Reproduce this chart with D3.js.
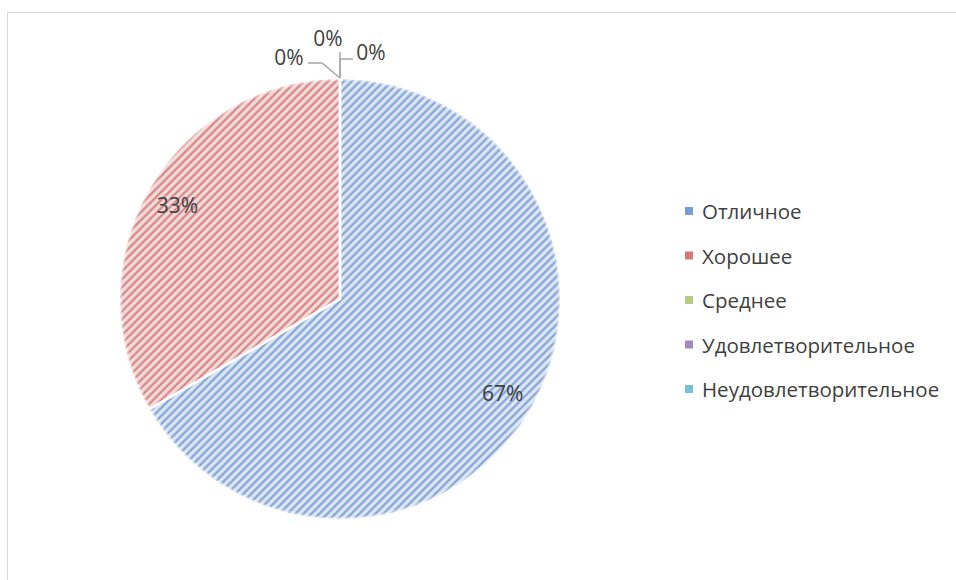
<!DOCTYPE html>
<html>
<head>
<meta charset="utf-8">
<script src="https://cdn.jsdelivr.net/npm/d3@7"></script>
<style>
  body { margin: 0; background: #fff; }
  text { font-family: "Open Sans", "DejaVu Sans", sans-serif; fill: #404040; }
</style>
</head>
<body>
<svg id="chart" width="956" height="580"></svg>
<script>
// grades and their share
const categories = ["Отличное", "Хорошее", "Среднее", "Удовлетворительное", "Неудовлетворительное"];
const values = [2, 1, 0, 0, 0];
const colors = ["#4a7bc4", "#c24e4c", "#9bbb59", "#8064a2", "#4bacc6"];
const lightColors = ["#dbe5f4", "#f3dbdb", "#e6eed5", "#dfd8e8", "#d2eaf1"];

const svg = d3.select("#chart");
const W = 956, H = 580;

// chart area border (runs off the right/bottom edge)
svg.append("rect")
  .attr("x", 7.5).attr("y", 12.5)
  .attr("width", W).attr("height", H)
  .attr("fill", "none")
  .attr("stroke", "#d9d9d9");

// hatch patterns
const defs = svg.append("defs");
const P = 8 / Math.SQRT2;
colors.forEach((c, i) => {
  const p = defs.append("pattern")
    .attr("id", "hatch" + i)
    .attr("patternUnits", "userSpaceOnUse")
    .attr("width", P).attr("height", P)
    .attr("patternTransform", "rotate(45)");
  p.append("rect").attr("width", P).attr("height", P).attr("fill", lightColors[i]);
  p.append("line")
    .attr("x1", 1.5).attr("y1", 0).attr("x2", 1.5).attr("y2", P)
    .attr("stroke", c).attr("stroke-width", 2)
    .attr("stroke-opacity", 0.65);
});

const cx = 340, cy = 299, r = 221;

const pie = d3.pie().sort(null).value(d => d)(values);
const arc = d3.arc().innerRadius(0).outerRadius(r);
const total = d3.sum(values);
const pct = v => Math.round(v / total * 100) + "%";

const g = svg.append("g").attr("transform", `translate(${cx},${cy})`);

g.selectAll("path.slice")
  .data(pie.filter(d => d.value > 0))
  .join("path")
  .attr("class", "slice")
  .attr("d", arc)
  .attr("fill", d => "url(#hatch" + d.index + ")");

// soft lighter rim
const rim = d3.arc().innerRadius(r - 3).outerRadius(r);
g.selectAll("path.rim")
  .data(pie.filter(d => d.value > 0))
  .join("path")
  .attr("class", "rim")
  .attr("d", rim)
  .attr("fill", "#fff")
  .attr("fill-opacity", 0.35);

g.selectAll("path.sep")
  .data(pie.filter(d => d.value > 0))
  .join("path")
  .attr("class", "sep")
  .attr("d", arc)
  .attr("fill", "none")
  .attr("stroke", "#fff")
  .attr("stroke-width", 2.5)
  .attr("stroke-linejoin", "round");

// labels for non-zero slices
const labelArc = d3.arc().innerRadius(r * 0.85).outerRadius(r * 0.85);
g.selectAll("text.lbl")
  .data(pie.filter(d => d.value > 0))
  .join("text")
  .attr("class", "lbl")
  .attr("x", d => labelArc.centroid(d)[0])
  .attr("y", d => labelArc.centroid(d)[1])
  .attr("text-anchor", "middle")
  .attr("dominant-baseline", "central")
  .style("font-size", "21px")
  .text(d => pct(d.value));

// zero slices: labels pushed out with leader lines (Excel-style)
const zeroLayout = [
  { dx: -51, dy: -21, path: [[0, 0], [-18, -15], [-32, -15]] },
  { dx: -12, dy: -40, path: [[0, 0], [0, -26]] },
  { dx: 31, dy: -26, path: [[0, 0], [0, -19], [13, -19]] }
];
const zeros = pie.filter(d => d.value === 0);
zeros.forEach((d, i) => {
  const L = zeroLayout[i];
  const top = [0, -r];
  g.append("path")
    .attr("d", d3.line()(L.path.map(p => [top[0] + p[0], top[1] + p[1]])))
    .attr("fill", "none")
    .attr("stroke", "#a6a6a6")
    .attr("stroke-width", 1.5);
  g.append("text")
    .attr("x", top[0] + L.dx)
    .attr("y", top[1] + L.dy)
    .attr("text-anchor", "middle")
    .attr("dominant-baseline", "central")
    .style("font-size", "21px")
    .text(pct(d.value));
});

// legend
const legendY = d3.scalePoint().domain(categories).range([211, 389]);
const lg = svg.append("g");
const items = lg.selectAll("g").data(categories).join("g")
  .attr("transform", d => `translate(685,${legendY(d)})`);
items.append("rect")
  .attr("x", 0).attr("y", -4).attr("width", 8).attr("height", 8)
  .attr("fill", (d, i) => colors[i])
  .attr("fill-opacity", 0.75);
items.append("text")
  .attr("x", 17).attr("y", 0)
  .attr("dominant-baseline", "central")
  .style("font-size", "20.5px")
  .text(d => d);
</script>
</body>
</html>
